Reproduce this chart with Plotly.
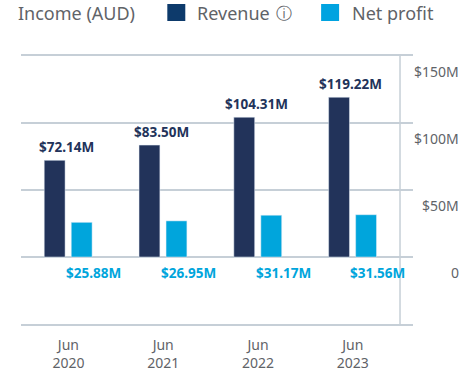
import plotly.graph_objects as go

periods = ["Jun<br>2020", "Jun<br>2021", "Jun<br>2022", "Jun<br>2023"]
revenue = [72.14, 83.50, 104.31, 119.22]
net_profit = [25.88, 26.95, 31.17, 31.56]
revenue_labels = ["$72.14M", "$83.50M", "$104.31M", "$119.22M"]
profit_labels = ["$25.88M", "$26.95M", "$31.17M", "$31.56M"]
y_ticks = [150, 100, 50, 0]
y_tick_labels = ["$150M", "$100M", "$50M", "0"]
title_text = "Income (AUD)"

FONT = "Noto Sans"
GREY = "#5f6368"
NAVY = "#22335a"
BLUE = "#00a5dc"
GRID = "#c6cfd7"
W, H = 469, 373
L, R, T, B = 20.5, 413, 56, 324

def px(v):
    return (v - L) / (R - L)

def py(v):
    return 1 - (v - T) / (B - T)

x = list(range(len(periods)))
fig = go.Figure()
fig.add_bar(x=x, y=revenue, name="Revenue", marker_color=NAVY, width=0.22, offset=-0.255, showlegend=False)
fig.add_bar(x=x, y=net_profit, name="Net profit", marker_color=BLUE, width=0.22, offset=0.03, showlegend=False)

ann = []
for i in x:
    ann.append(dict(x=i, y=revenue[i], text=f"<b>{revenue_labels[i]}</b>", showarrow=False, xref="x", yref="y",
                    xshift=-2, yshift=13, font=dict(family=FONT, size=13.5, color=NAVY)))
    ann.append(dict(x=i, y=0, text=f"<b>{profit_labels[i]}</b>", showarrow=False, xref="x", yref="y",
                    xshift=25, yshift=-16, font=dict(family=FONT, size=13.5, color=BLUE)))
for v, t in zip(y_ticks, y_tick_labels):
    ann.append(dict(x=px(461), y=v, text=t, showarrow=False, xref="paper", yref="y", xanchor="right",
                    yshift=-15, font=dict(family=FONT, size=14, color=GREY)))

def header(xp, text, size=18):
    ann.append(dict(x=px(xp), y=py(13), text=text, showarrow=False, xref="paper", yref="paper",
                    xanchor="left", yanchor="middle", font=dict(family=FONT, size=size, color=GREY)))

header(15, title_text)
header(195, "Revenue")
header(274, "ⓘ", 16)
header(350, "Net profit")

shapes = [
    dict(type="rect", xref="paper", yref="paper", x0=px(167), x1=px(185), y0=py(21), y1=py(4),
         fillcolor="#0d3a6b", line_width=0),
    dict(type="rect", xref="paper", yref="paper", x0=px(321), x1=px(339), y0=py(21), y1=py(4),
         fillcolor="#00a3e0", line_width=0),
    dict(type="line", xref="paper", yref="paper", x0=px(400), x1=px(400), y0=0, y1=1,
         line=dict(color=GRID, width=1.5), layer="below"),
]

fig.update_layout(
    width=W, height=H, autosize=False,
    margin=dict(l=L, r=W - R, t=T, b=H - B, pad=0),
    paper_bgcolor="white", plot_bgcolor="white",
    font=dict(family=FONT, color=GREY),
    annotations=ann, shapes=shapes,
    xaxis=dict(domain=[0, 1], range=[-0.5, 3.635], tickvals=x, ticktext=periods, showgrid=False,
               zeroline=False, ticks="outside", ticklen=7, tickcolor="rgba(0,0,0,0)", automargin=False,
               showline=True, linecolor=GRID, linewidth=2, mirror=True,
               tickfont=dict(family=FONT, size=14, color=GREY)),
    yaxis=dict(range=[-50, 150], tickvals=[0, 50, 100, 150], showticklabels=False, showgrid=True,
               gridcolor=GRID, gridwidth=2, zeroline=False, ticks="", showline=False, automargin=False),
)
fig.write_html("out.html", config={"displayModeBar": False},
               post_script="document.body.style.margin='0';")
